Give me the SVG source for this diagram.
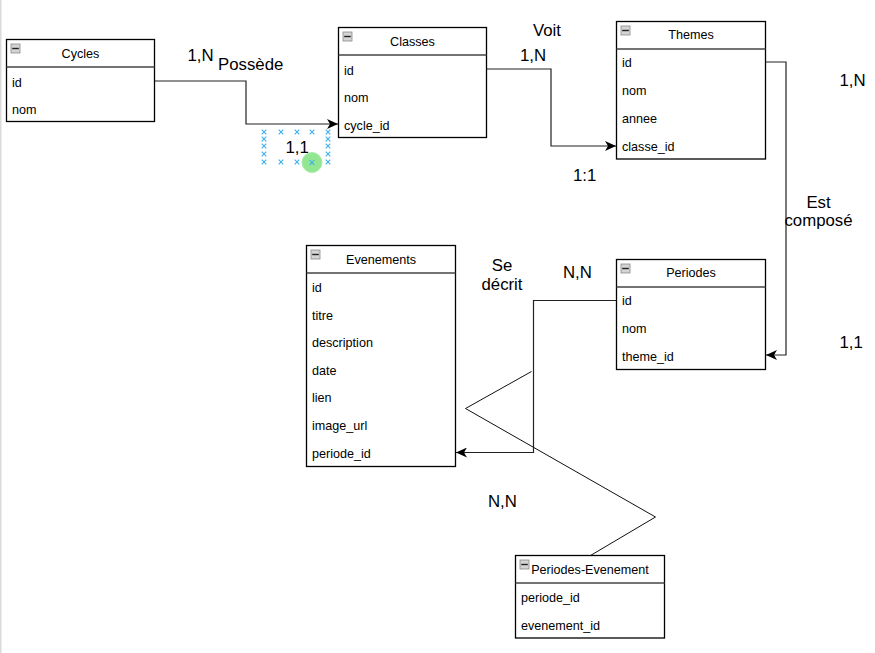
<svg xmlns="http://www.w3.org/2000/svg" width="875" height="653" viewBox="0 0 875 653">
<style>
.box{fill:#fff;stroke:#000;stroke-width:1.3}
.sep{stroke:#444;stroke-width:1.6}
.t{font-family:"Liberation Sans",Arial,sans-serif;font-size:12.6px;fill:#000}
.c{text-anchor:middle}
.lbl{font-family:"Liberation Sans",Arial,sans-serif;font-size:16.8px;fill:#000}
.ic{fill:#d4d4d4;stroke:#8a8a8a;stroke-width:0.8}
.icl{stroke:#222;stroke-width:1.4}
.conn{fill:none;stroke:#222;stroke-width:1.2}
.thin{fill:none;stroke:#111;stroke-width:1}
.hx{stroke:#3ab0ef;stroke-width:1.1}
</style>
<defs>
<marker id="arr" viewBox="0 0 11 10" refX="11" refY="5" markerWidth="11" markerHeight="10" markerUnits="userSpaceOnUse" orient="auto">
<path d="M0,0 L11,5 L0,10 L3,5 Z" fill="#000"/>
</marker>
<g id="icon"><rect class="ic" x="0" y="0" width="9" height="9"/><line class="icl" x1="1.2" y1="4.5" x2="7.8" y2="4.5"/></g>
<path id="xm" d="M-2.3,-2.3 L2.3,2.3 M-2.3,2.3 L2.3,-2.3"/>
</defs>
<rect x="0" y="0" width="1.5" height="653" fill="#dadada"/>

<g id="connectors">
<path class="conn" d="M154,81 H246 V124 H338" marker-end="url(#arr)"/>
<path class="conn" d="M487,69 H551 V146 H616" marker-end="url(#arr)"/>
<path class="conn" d="M766,62 H786 V355 H766" marker-end="url(#arr)"/>
<path class="conn" d="M616,300.5 H533.5 V452.5 H456" marker-end="url(#arr)"/>
<path class="thin" d="M531.5,371.5 L465.5,408.5 L655.5,517 L590.5,555.5"/>
</g>

<g id="labels">
<text class="lbl" x="187.5" y="61">1,N</text>
<text class="lbl" x="218" y="69.5">Possède</text>
<text class="lbl" x="285.5" y="153">1,1</text>
<text class="lbl" x="533" y="36">Voit</text>
<text class="lbl" x="520" y="61">1,N</text>
<text class="lbl" x="573" y="181">1:1</text>
<text class="lbl" x="839.5" y="86">1,N</text>
<text class="lbl c" x="818.5" y="207.5">Est</text>
<text class="lbl c" x="818.5" y="225.5">composé</text>
<text class="lbl" x="839.5" y="348">1,1</text>
<text class="lbl c" x="502" y="271">Se</text>
<text class="lbl c" x="502" y="290">décrit</text>
<text class="lbl" x="563" y="278">N,N</text>
<text class="lbl" x="488" y="507">N,N</text>
</g>

<g id="selection">
<g class="hx">
<use href="#xm" x="264" y="132"/><use href="#xm" x="281" y="132"/><use href="#xm" x="297" y="132"/><use href="#xm" x="312" y="132"/><use href="#xm" x="328" y="132"/>
<use href="#xm" x="264" y="139"/><use href="#xm" x="264" y="146"/><use href="#xm" x="264" y="154"/>
<use href="#xm" x="328" y="139"/><use href="#xm" x="328" y="146"/><use href="#xm" x="328" y="154"/>
<use href="#xm" x="264" y="162"/><use href="#xm" x="281" y="162"/><use href="#xm" x="297" y="162"/><use href="#xm" x="328" y="162"/>
</g>
<circle cx="312" cy="162.5" r="10" fill="#7fe27f" fill-opacity="0.85" stroke="#a8eca8" stroke-width="1"/>
<use href="#xm" x="312" y="162.5" class="hx"/>
</g>

<g id="cycles">
<rect class="box" x="6.5" y="39.5" width="148" height="82"/>
<line class="sep" x1="6.5" y1="67" x2="154.5" y2="67"/>
<use href="#icon" x="11" y="44"/>
<text class="t c" x="80.5" y="57.5">Cycles</text>
<text class="t" x="12" y="86.5">id</text>
<text class="t" x="12" y="113.5">nom</text>
</g>

<g id="classes">
<rect class="box" x="338.5" y="27.5" width="148" height="110"/>
<line class="sep" x1="338.5" y1="55" x2="486.5" y2="55"/>
<use href="#icon" x="343" y="32"/>
<text class="t c" x="412.5" y="45.5">Classes</text>
<text class="t" x="344" y="74.5">id</text>
<text class="t" x="344" y="101.5">nom</text>
<text class="t" x="344" y="129.5">cycle_id</text>
</g>

<g id="themes">
<rect class="box" x="616.5" y="21.5" width="149" height="137.5"/>
<line class="sep" x1="616.5" y1="49" x2="765.5" y2="49"/>
<use href="#icon" x="621" y="26"/>
<text class="t c" x="691" y="39">Themes</text>
<text class="t" x="622" y="66.5">id</text>
<text class="t" x="622" y="94.5">nom</text>
<text class="t" x="622" y="122.5">annee</text>
<text class="t" x="622" y="150.5">classe_id</text>
</g>

<g id="evenements">
<rect class="box" x="306.5" y="245.5" width="149" height="221"/>
<line class="sep" x1="306.5" y1="273" x2="455.5" y2="273"/>
<use href="#icon" x="311" y="250"/>
<text class="t c" x="381" y="263.5">Evenements</text>
<text class="t" x="312" y="291.5">id</text>
<text class="t" x="312" y="319.5">titre</text>
<text class="t" x="312" y="347">description</text>
<text class="t" x="312" y="374.5">date</text>
<text class="t" x="312" y="402">lien</text>
<text class="t" x="312" y="429.5">image_url</text>
<text class="t" x="312" y="457.5">periode_id</text>
</g>

<g id="periodes">
<rect class="box" x="616.5" y="259.5" width="149" height="110"/>
<line class="sep" x1="616.5" y1="287" x2="765.5" y2="287"/>
<use href="#icon" x="621" y="264"/>
<text class="t c" x="691" y="277">Periodes</text>
<text class="t" x="622" y="304.5">id</text>
<text class="t" x="622" y="332.5">nom</text>
<text class="t" x="622" y="360.5">theme_id</text>
</g>

<g id="periodes-evenement">
<rect class="box" x="515.5" y="555.5" width="149" height="82.5"/>
<line class="sep" x1="515.5" y1="583" x2="664.5" y2="583"/>
<use href="#icon" x="520" y="560"/>
<text class="t c" x="590" y="574">Periodes-Evenement</text>
<text class="t" x="521" y="601.5">periode_id</text>
<text class="t" x="521" y="629.5">evenement_id</text>
</g>
</svg>
